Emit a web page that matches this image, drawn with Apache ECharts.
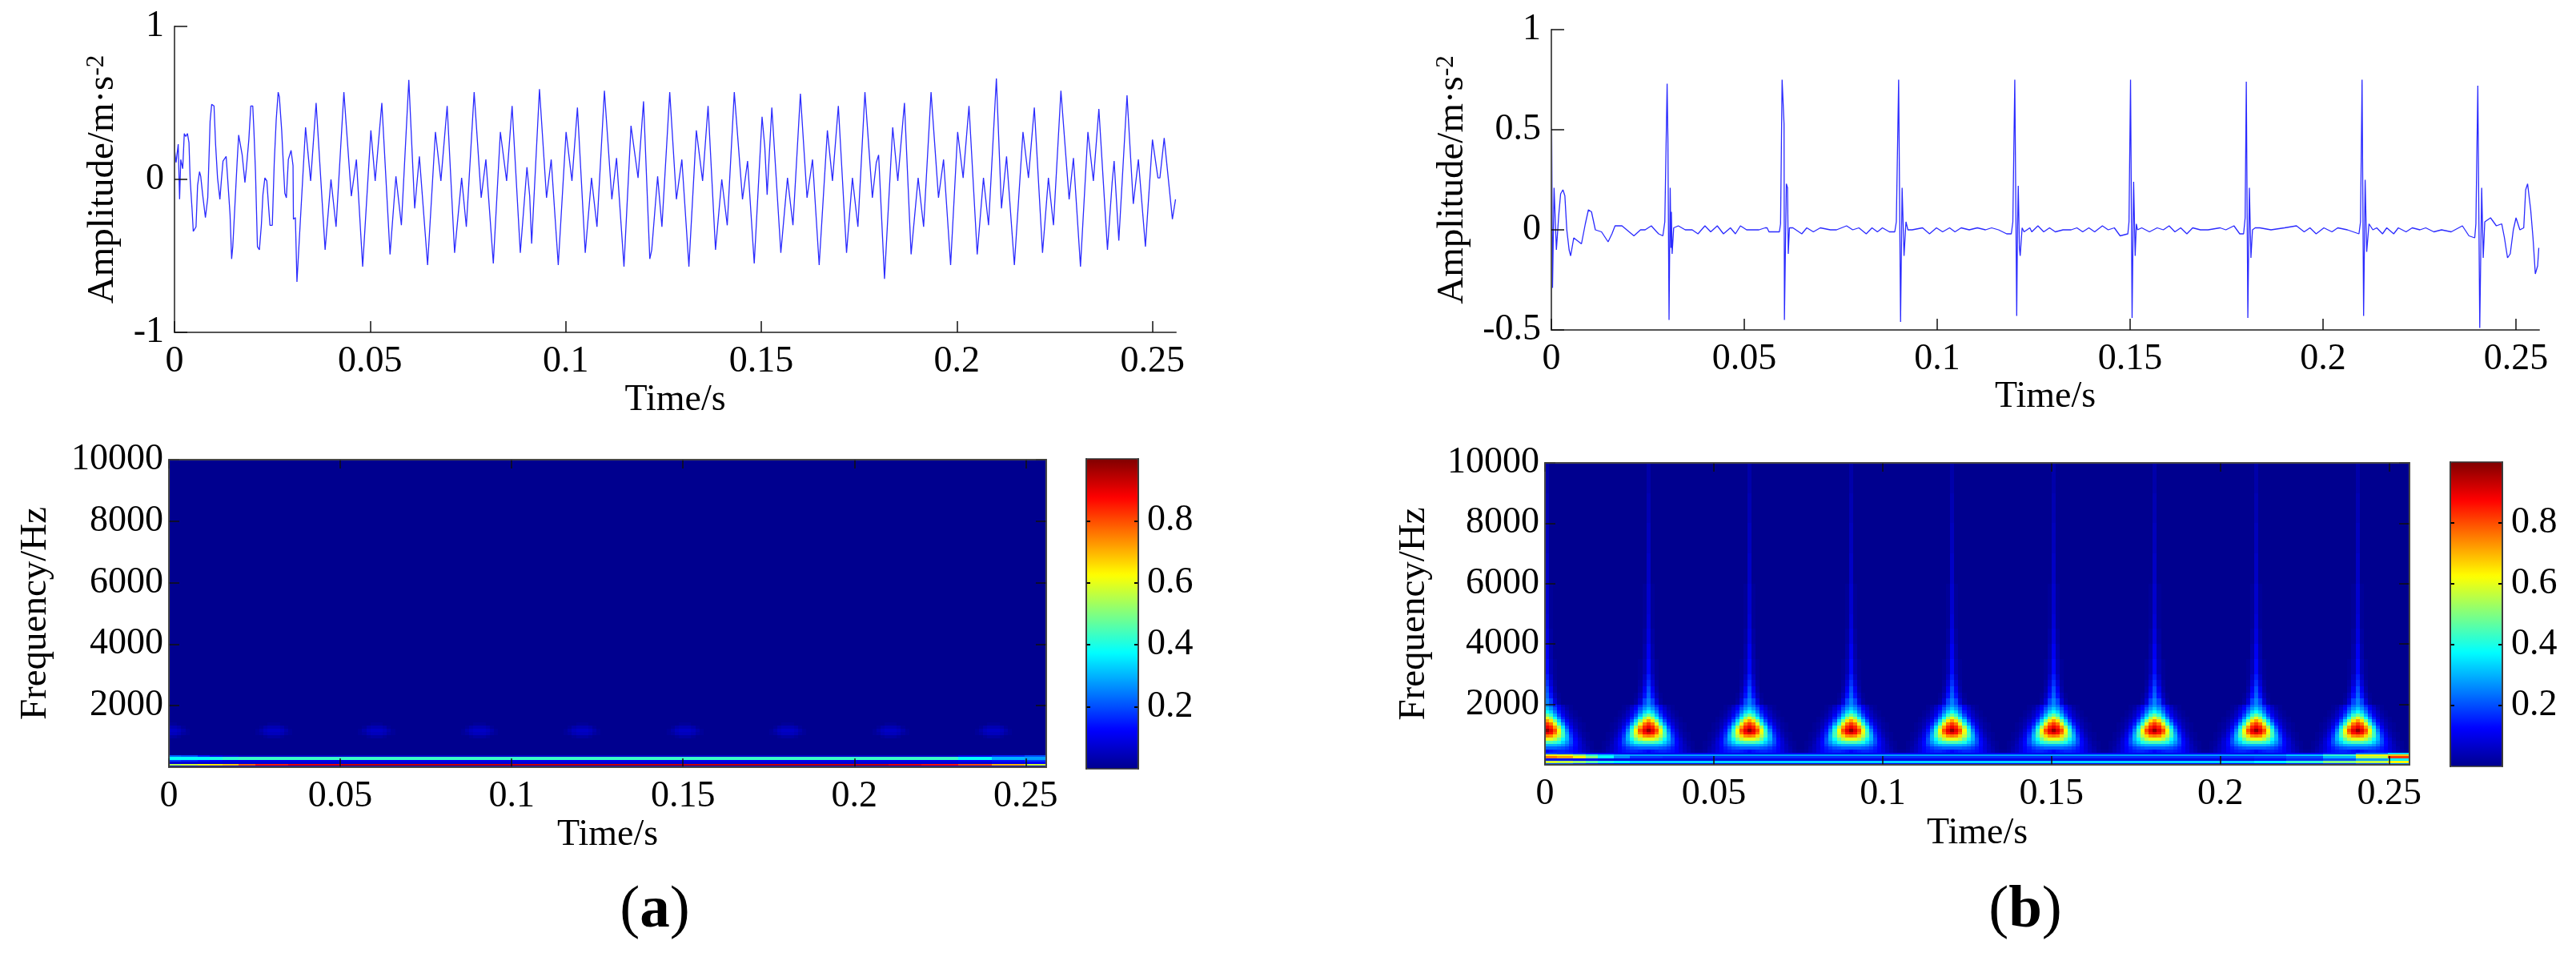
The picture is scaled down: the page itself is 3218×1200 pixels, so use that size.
<!DOCTYPE html>
<html>
<head>
<meta charset="utf-8">
<style>html,body{margin:0;padding:0;background:#fff}#chart{width:3218px;height:1200px}</style>
<script src="https://cdn.jsdelivr.net/npm/echarts@6/dist/echarts.min.js"></script>
</head>
<body>
<div id="chart"></div>
<script>
// tick values
var timeTicks = [0, 0.05, 0.1, 0.15, 0.2, 0.25];
var ampTicksA = [-1, 0, 1];
var ampTicksB = [-0.5, 0, 0.5, 1];
var freqTicks = [2000, 4000, 6000, 8000, 10000];
var barTicks = [0.2, 0.4, 0.6, 0.8];
var timeEnd = 0.256;

// waveform (a): [time in ms, amplitude]
var waveA = [[0,.20],[.4,.11],[.95,.23],[1.3,-.13],[1.6,.13],[2.1,.07],[2.5,.30],[2.9,.28],[3.3,.30],[3.7,.24],[4,0],[4.5,-.20],[4.8,-.34],[5.2,-.35],[5.5,-.31],[5.9,-.04],[6.4,.05],[6.7,.02],[7.2,-.10],[7.9,-.25],[8.5,-.12],[8.8,.13],[9.1,.38],[9.5,.49],[10.1,.48],[10.5,.23],[11,.01],[11.6,-.13],[12,0],[12.4,.12],[13.2,.15],[13.6,0],[14.2,-.23],[14.6,-.52],[14.9,-.44],[15.4,-.19],[16,.11],[16.4,.29],[16.8,.30],[17.3,.16],[18,-.02],[18.4,.08],[19,.26],[19.5,.48],[20,.48],[20.3,.32],[20.7,.05],[21.2,-.44],[21.7,-.46],[22.2,-.30],[22.6,-.10],[23.1,.01],[23.6,-.01],[24,-.16],[24.4,-.30],[25,-.30],[25.5,.11],[26,.39],[26.5,.57],[26.8,.54],[27.4,.32],[27.8,.11],[28.2,-.09],[28.6,-.12],[29.1,.13],[29.5,.13],[29.8,.19],[30.3,.09],[30.4,-.26],[30.9,-.25],[31.3,-.67],[33.5,.34],[34.8,-.01],[36.2,.50],[38.5,-.46],[40,0],[41.3,-.31],[43.3,.57],[45.2,-.11],[46.5,.13],[48.1,-.57],[50.2,.32],[51.3,-.01],[53,.50],[55.1,-.49],[56.6,.02],[58,-.30],[59.9,.65],[61.4,-.19],[62.6,.15],[64.7,-.56],[66.7,.31],[68.1,-.01],[69.7,.48],[71.6,-.48],[73.4,.01],[74.6,-.31],[76.6,.57],[78.4,-.12],[79.6,.13],[81.5,-.55],[83.3,.31],[84.9,-.01],[86.3,.48],[88.4,-.48],[90.1,.08],[90.8,-.11],[91.3,-.42],[93.3,.59],[95.1,-.12],[96.3,.13],[98.1,-.56],[100.1,.31],[101.6,-.01],[103,.47],[105,-.48],[106.6,.01],[108,-.31],[109.9,.58],[111.8,-.13],[113,.14],[114.9,-.57],[116.7,.35],[118.5,.01],[119.9,.51],[121.5,-.52],[122,-.46],[123.5,.02],[124.6,-.31],[126.6,.57],[128.3,-.13],[129.7,.13],[131.5,-.57],[133.4,.32],[135,-.01],[136.4,.48],[138.3,-.46],[139.9,0],[141.3,-.30],[143.1,.57],[145.2,-.13],[146.5,.12],[148.2,-.55],[150.2,.41],[150.9,.21],[151.5,-.10],[152.7,.47],[155,-.48],[156.7,.01],[158.1,-.30],[160,.56],[161.7,-.12],[163.1,.13],[164.8,-.56],[166.9,.32],[168.2,-.01],[169.7,.48],[171.8,-.48],[173.3,.01],[174.7,-.31],[176.5,.57],[178.4,-.12],[179.4,.11],[180,.16],[181.5,-.65],[183.6,.34],[184.9,-.01],[186.6,.50],[188.3,-.49],[190.1,.01],[191.5,-.31],[193.4,.57],[195.3,-.12],[196.6,.13],[198.4,-.56],[200.2,.31],[201.6,.01],[203.1,.48],[205.2,-.49],[206.8,.01],[208.1,-.30],[210.1,.66],[211.4,-.19],[212.7,.15],[214.7,-.56],[216.9,.31],[218.3,.01],[219.8,.47],[221.9,-.48],[223.4,.01],[224.7,-.30],[226.6,.58],[228.7,-.13],[229.8,.14],[231.6,-.57],[233.5,.31],[234.9,-.01],[236.3,.46],[238.5,-.46],[239.7,-.02],[240.2,.12],[241.4,-.40],[243.5,.55],[245.1,-.16],[246.4,.13],[248.2,-.44],[250,.26],[251.4,.01],[251.9,.01],[253,.27],[255.1,-.26],[255.9,-.13]];

// waveform (b): [time in ms, amplitude]
var waveB = [[0,.81],[.3,-.29],[.7,.21],[1.3,-.10],[1.9,.07],[2.4,.18],[3,.20],[3.5,.17],[4,0],[4.6,-.10],[5,-.13],[5.8,-.04],[7.8,-.07],[8.8,.03],[9.6,.10],[10.4,.09],[11.4,0],[13,-.01],[14.7,-.06],[15.7,-.02],[16.5,.02],[18.3,.02],[21.4,-.03],[23.1,0],[24.3,0],[25.9,.02],[27.3,-.01],[27.8,-.02],[28.9,-.03],[29.4,.04],[30,.73],[30.2,.46],[30.5,-.45],[30.8,.21],[31,-.09],[31.1,.09],[31.3,-.12],[31.7,.01],[32.9,.02],[34.7,0],[36.5,0],[38,-.02],[39.8,.02],[41.3,-.01],[43,.02],[44.6,-.02],[46.4,.01],[47.7,-.02],[49,.02],[50.6,0],[52.2,0],[53.8,0],[55.4,.01],[55.9,.01],[56.4,-.01],[58,-.01],[59.1,-.01],[59.4,.03],[59.8,.75],[60.3,.53],[60.4,-.45],[60.9,.23],[61.2,.21],[61.4,-.12],[61.7,.01],[62.6,.01],[64.9,-.02],[66.2,.01],[67.9,-.01],[69.7,.01],[72.3,0],[73.9,0],[76.5,.02],[78.1,0],[79.7,.01],[81.6,-.02],[83.1,.01],[84.5,-.01],[85.8,.01],[87.6,-.01],[89,-.01],[89.4,.04],[90,.75],[90.5,-.46],[90.9,.21],[91.4,-.13],[91.9,.04],[92.4,0],[93.5,0],[96.2,.01],[98,-.02],[99.8,.01],[101.4,-.01],[103.2,.01],[104.6,-.01],[106.2,.01],[108.3,0],[110.4,.01],[112.5,0],[114.1,.01],[115.9,0],[118,-.02],[119.2,-.02],[119.6,.04],[120.1,.75],[120.6,-.43],[120.8,0],[121,.22],[121.3,-.09],[121.5,-.13],[122,.01],[122.5,-.01],[124,.01],[124.5,-.01],[126.1,.02],[127.6,-.01],[129.1,.01],[130.6,-.01],[132.6,0],[134.7,0],[136.2,.01],[137.7,-.01],[139.3,.01],[140.8,-.01],[142.8,.02],[144.3,0],[145.9,.01],[147.4,-.03],[149.4,-.02],[149.7,.04],[150.1,.75],[150.5,-.44],[150.9,.24],[151.3,-.13],[151.6,.03],[151.9,0],[153,.01],[155,-.01],[157,.01],[158.6,0],[160.1,.02],[161.6,-.01],[163.1,.01],[164.7,-.02],[166.2,.01],[168.2,0],[170.2,0],[173.3,.01],[174.8,0],[176.9,.02],[178.4,-.02],[179.4,-.02],[179.8,.06],[180.1,.74],[180.5,-.44],[180.9,.21],[181.3,-.14],[181.7,0],[182.4,.01],[183.6,.01],[186.5,0],[190,.01],[193.1,.02],[195.1,-.01],[196.6,.01],[198.2,-.02],[200.2,.01],[202.3,-.01],[203.8,.01],[206.3,0],[207.8,-.01],[209.3,-.02],[209.7,.04],[210.1,.75],[210.5,-.43],[210.9,.25],[211.3,-.11],[211.9,.03],[212.9,0],[213.9,.01],[215.4,-.02],[216.5,.01],[218.3,-.02],[219.5,.01],[221.5,-.01],[223.1,.01],[225.1,0],[226.6,.01],[228.7,-.01],[230.7,0],[233.2,-.01],[236.1,.02],[237.8,-.03],[239.3,-.04],[239.6,.03],[240.1,.72],[240.6,-.49],[241.1,.21],[241.5,-.14],[241.9,.04],[243.4,.06],[244.9,.02],[246.3,.03],[247,-.04],[247.8,-.14],[248.5,-.12],[249.3,0],[250,.06],[251,0],[252,.01],[252.5,.20],[253,.23],[253.8,.10],[254.4,-.04],[255,-.22],[255.6,-.18],[255.9,-.09]];

// spectrogram: the impact times seen in each picture
var burstsA = [0.001, 0.031, 0.061, 0.091, 0.121, 0.151, 0.181, 0.211, 0.241];
var burstsB = [0.0005, 0.0305, 0.0605, 0.0905, 0.1205, 0.1505, 0.1805, 0.2105, 0.2405];
var cellStep = 0.0012; // width of one time column in s

// row edges in Hz, one row of energy (percent) per band, columns go away from the burst centre
var blobEdgesA = [950, 1050, 1150, 1250, 1350, 1450];
var blobRowsA = [
  [2, 2, 1],
  [5, 5, 4, 2, 1],
  [6, 6, 5, 3, 1],
  [4, 4, 3, 1],
  [1, 1]
];
var blobEdgesB = [400, 500, 600, 700, 800, 900, 1000, 1100, 1200, 1300, 1400, 1500, 1600, 1700, 1800, 1900, 2000, 2200, 2400, 2600, 2800, 3000, 3500, 4000, 4500, 5000, 6000, 7000, 8000, 9000, 10000];
var blobRowsB = [
  [12, 14, 15, 16, 16, 15, 14, 12, 9, 6, 4, 2, 1],
  [22, 22, 22, 21, 20, 18, 15, 12, 8, 5, 3, 1],
  [30, 30, 30, 29, 27, 23, 18, 13, 8, 5, 2, 1],
  [45, 45, 43, 40, 33, 27, 20, 13, 8, 4, 2, 1],
  [60, 60, 56, 48, 38, 30, 20, 12, 7, 3, 1],
  [76, 74, 66, 56, 44, 30, 18, 10, 5, 2, 1],
  [90, 86, 76, 60, 44, 28, 16, 9, 4, 2, 1],
  [98, 90, 80, 62, 42, 25, 14, 7, 3, 1],
  [89, 84, 72, 54, 35, 20, 11, 5, 2, 1],
  [82, 76, 60, 42, 27, 15, 8, 4, 2, 1],
  [72, 65, 50, 33, 20, 11, 6, 3, 1],
  [60, 52, 38, 25, 15, 8, 4, 2, 1],
  [48, 42, 30, 19, 11, 6, 3, 1],
  [38, 33, 24, 15, 9, 5, 2, 1],
  [32, 27, 20, 12, 7, 3, 1],
  [27, 23, 16, 10, 5, 2, 1],
  [25, 19, 8, 2],
  [22, 14, 5, 1],
  [20, 11, 3],
  [17, 8, 2],
  [15, 6, 1],
  [13, 4, 1],
  [11, 3],
  [9, 2],
  [8, 1],
  [7, 1],
  [6],
  [5],
  [4],
  [3]
];

// low frequency bands: band edges in Hz, values at bandTimes (each holds until the next one)
var bandTimes = [0, 0.004, 0.008, 0.012, 0.016, 0.02, 0.025, 0.035, 0.05, 0.2, 0.21, 0.22, 0.23, 0.24, 0.25];
var bandEdgesA = [0, 45, 110, 195, 240, 340, 400];
var bandRowsA = [
  [.04, .04, .04, .04, .04, .04, .04, .04, .04, .04, .04, .04, .04, .04, .04],
  [.55, .58, .62, .65, .68, .78, .85, .90, .93, .93, .90, .86, .80, .70, .58],
  [.08, .08, .08, .08, .08, .08, .08, .08, .08, .08, .08, .08, .08, .1, .12],
  [.18, .16, .14, .12, .1, .1, .1, .1, .1, .1, .1, .1, .12, .14, .18],
  [.38, .38, .38, .40, .42, .43, .43, .43, .43, .43, .43, .43, .38, .30, .28],
  [.22, .2, .15, .1, .08, .06, .06, .06, .06, .06, .06, .06, .1, .16, .2]
];
var bandEdgesB = [0, 40, 130, 212, 280, 344, 400];
var bandRowsB = [
  [.2, .2, .16, .14, .12, .12, .12, .12, .12, .12, .12, .14, .16, .2, .25],
  [.58, .56, .52, .46, .4, .36, .33, .33, .33, .33, .36, .42, .5, .56, .62],
  [.14, .14, .12, .12, .1, .1, .1, .1, .1, .1, .12, .16, .2, .28, .36],
  [.76, .72, .64, .5, .38, .26, .18, .17, .17, .17, .18, .2, .3, .55, .82],
  [.64, .6, .52, .42, .34, .3, .28, .28, .28, .28, .28, .32, .42, .62, .68],
  [.2, .18, .16, .14, .12, .11, .11, .11, .11, .11, .11, .13, .16, .24, .34]
];

var jet = ['#00008f', '#0000ff', '#0080ff', '#00ffff', '#80ff80', '#ffff00', '#ff8000', '#ff0000', '#800000'];
var serif = 'Liberation Serif';

// one column per cellStep, one row per band or blob row
function buildCells(bursts, blobEdges, blobRows, bandEdges, bandRows) {
  var cells = [];
  for (var c = 0; c * cellStep < timeEnd; c++) {
    var t0 = c * cellStep;
    var t1 = Math.min(t0 + cellStep, timeEnd);
    var mid = (t0 + t1) / 2;

    var k = 0;
    while (k < bandTimes.length - 1 && bandTimes[k + 1] <= mid) k++;
    bandRows.forEach(function (row, r) {
      cells.push([t0, t1, bandEdges[r], bandEdges[r + 1], row[k]]);
    });

    var offset = Infinity;
    bursts.forEach(function (b) {
      offset = Math.min(offset, Math.round(Math.abs(mid - b) / cellStep));
    });
    blobRows.forEach(function (row, r) {
      cells.push([t0, t1, blobEdges[r], blobEdges[r + 1], (row[offset] || 0) / 100]);
    });
    // what is left of the band above and below the blob table
    if (blobEdges[0] > bandEdges[bandEdges.length - 1]) {
      cells.push([t0, t1, bandEdges[bandEdges.length - 1], blobEdges[0], 0]);
    }
    if (blobEdges[blobEdges.length - 1] < 10000) {
      cells.push([t0, t1, blobEdges[blobEdges.length - 1], 10000, 0]);
    }
  }
  return cells;
}

// corners are snapped to whole pixels so no seams show between the cells
function renderCell(params, api) {
  var p0 = api.coord([api.value(0), api.value(3)]);
  var p1 = api.coord([api.value(1), api.value(2)]);
  var x = Math.round(p0[0]), y = Math.round(p0[1]);
  return {
    type: 'rect',
    shape: { x: x, y: y, width: Math.round(p1[0]) - x, height: Math.round(p1[1]) - y },
    style: { fill: api.visual('color') }
  };
}

function toSeconds(wave) {
  return wave.map(function (d) { return [d[0] / 1000, d[1]]; });
}

function fmt(v) { return String(v); }

var grids = [], xAxes = [], yAxes = [], seriesList = [], visualMaps = [];

function timeAxis(g, nameGap, opts) {
  return Object.assign({
    gridIndex: g, type: 'value', min: 0, max: timeEnd, z: 5,
    splitLine: { show: false },
    axisLine: { onZero: false, lineStyle: { color: '#555', width: 2 } },
    axisTick: { inside: true, length: 14, customValues: timeTicks, lineStyle: { color: '#111', width: 1.5 } },
    axisLabel: { customValues: timeTicks, formatter: fmt, fontFamily: serif, fontSize: 46, color: '#000', margin: 14 },
    name: 'Time/s', nameLocation: 'middle', nameGap: nameGap,
    nameTextStyle: { fontFamily: serif, fontSize: 46, color: '#000' }
  }, opts || {});
}

function sideAxis(g, position, min, max, ticks, tickLen, opts) {
  return Object.assign({
    gridIndex: g, type: 'value', min: min, max: max, position: position, z: 5,
    splitLine: { show: false },
    axisLine: { onZero: false, lineStyle: { color: '#555', width: 2 } },
    axisTick: { inside: true, length: tickLen, customValues: ticks, lineStyle: { color: '#111', width: 1.5 } },
    axisLabel: { show: false }
  }, opts || {});
}

function yLabel(ticks, margin) {
  return { customValues: ticks, formatter: fmt, fontFamily: serif, fontSize: 46, color: '#000', margin: margin };
}

// waveform panel: left and bottom axes only
function addWave(box, wave, ticks, yMin, nameGapX, nameGapY) {
  var g = grids.length;
  grids.push(box);
  xAxes.push(timeAxis(g, nameGapX));
  yAxes.push(sideAxis(g, 'left', yMin, 1, ticks, 16, {
    axisLabel: yLabel(ticks, 13),
    name: '{base|Amplitude/m·s}{sup|-2}',
    nameLocation: 'middle', nameGap: nameGapY, nameRotate: 90,
    nameTextStyle: {
      rich: {
        base: { fontFamily: serif, fontSize: 47, color: '#000' },
        sup: { fontFamily: serif, fontSize: 31, color: '#000', verticalAlign: 'top', padding: [0, 0, 16, 0] }
      }
    }
  }));
  seriesList.push({
    type: 'line', xAxisIndex: xAxes.length - 1, yAxisIndex: yAxes.length - 1,
    data: toSeconds(wave), showSymbol: false, sampling: false, animation: false,
    lineStyle: { color: '#2a2aff', width: 1.3 }
  });
}

// spectrogram panel: boxed, ticks on all four sides
function addHeat(box, cells, nameGapX, nameGapY) {
  var g = grids.length;
  var heatTick = { inside: true, length: 11, customValues: timeTicks, lineStyle: { color: '#111', width: 1.5 } };
  grids.push(Object.assign({ show: true, borderColor: '#444', borderWidth: 1.5, backgroundColor: 'transparent', z: 10 }, box));
  xAxes.push(timeAxis(g, nameGapX, { axisTick: heatTick }));
  var xIndex = xAxes.length - 1;
  xAxes.push(timeAxis(g, 0, { position: 'top', name: '', axisLabel: { show: false }, axisTick: heatTick }));
  yAxes.push(sideAxis(g, 'left', 0, 10000, freqTicks, 13, {
    axisLabel: yLabel(freqTicks, 7),
    name: 'Frequency/Hz', nameLocation: 'middle', nameGap: nameGapY, nameRotate: 90,
    nameTextStyle: { fontFamily: serif, fontSize: 47, color: '#000' }
  }));
  var yIndex = yAxes.length - 1;
  yAxes.push(sideAxis(g, 'right', 0, 10000, freqTicks, 13));
  seriesList.push({
    id: 'heat' + g, type: 'custom', xAxisIndex: xIndex, yAxisIndex: yIndex,
    data: cells, renderItem: renderCell, animation: false, progressive: 0, silent: true,
    encode: { x: [0, 1], y: [2, 3] }
  });
  return seriesList.length - 1;
}

// colour bar: visualMap gradient with a small axes box on top for the ticks
function addBar(box, heatSeries) {
  var g = grids.length;
  grids.push(Object.assign({ show: true, borderColor: '#333', borderWidth: 1.5, backgroundColor: 'transparent', z: 10 }, box));
  xAxes.push({ gridIndex: g, type: 'value', min: 0, max: 1, show: false });
  var barTick = { inside: true, length: 5, customValues: barTicks, lineStyle: { color: '#000', width: 2 } };
  yAxes.push(sideAxis(g, 'right', 0, 1, barTicks, 5, {
    axisTick: barTick,
    axisLabel: { customValues: barTicks, formatter: fmt, fontFamily: serif, fontSize: 46, color: '#000', margin: 11 }
  }));
  yAxes.push(sideAxis(g, 'left', 0, 1, barTicks, 5, { axisTick: barTick }));
  visualMaps.push({
    type: 'continuous', min: 0, max: 1, dimension: 4, seriesIndex: heatSeries,
    left: box.left, top: box.top, itemWidth: box.width, itemHeight: box.height,
    padding: 0, calculable: false, hoverLink: false, text: null, showLabel: false,
    inRange: { color: jet }
  });
}

addWave({ left: 218, top: 33, width: 1251, height: 382 }, waveA, ampTicksA, -1, 62, 66);
addWave({ left: 1938, top: 37, width: 1234, height: 375 }, waveB, ampTicksB, -0.5, 60, 100);
var heatA = addHeat({ left: 211, top: 574, width: 1096, height: 384 },
  buildCells(burstsA, blobEdgesA, blobRowsA, bandEdgesA, bandRowsA), 62, 143);
var heatB = addHeat({ left: 1930, top: 578, width: 1080, height: 377 },
  buildCells(burstsB, blobEdgesB, blobRowsB, bandEdgesB, bandRowsB), 63, 140);
addBar({ left: 1357, top: 573, width: 65, height: 387 }, heatA);
addBar({ left: 3061, top: 577, width: 65, height: 380 }, heatB);

function panelTitle(letter, x) {
  return {
    text: '{n|(}{b|' + letter + '}{n|)}',
    left: x, top: 1100, textAlign: 'center', padding: 0,
    textStyle: {
      fontWeight: 'normal',
      rich: {
        n: { fontFamily: serif, fontSize: 75, fontWeight: 'normal', color: '#000' },
        b: { fontFamily: serif, fontSize: 75, fontWeight: 'bold', color: '#000' }
      }
    }
  };
}

var myChart = echarts.init(document.getElementById('chart'), null, { renderer: 'canvas' });
myChart.setOption({
  backgroundColor: '#fff',
  animation: false,
  title: [panelTitle('a', 818), panelTitle('b', 2530)],
  grid: grids,
  xAxis: xAxes,
  yAxis: yAxes,
  visualMap: visualMaps,
  series: seriesList
});
</script>
</body>
</html>
